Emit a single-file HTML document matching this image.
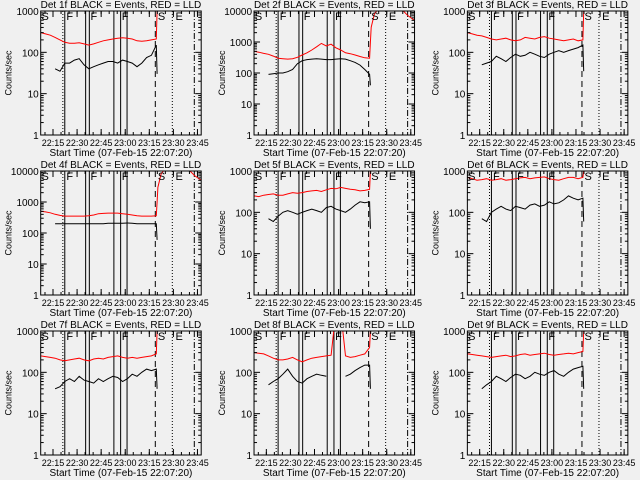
<!DOCTYPE html>
<html><head><meta charset="utf-8"><style>
html,body{margin:0;padding:0;background:#f0f0f0;}
svg{display:block;font-family:"Liberation Sans",sans-serif;}
</style></head><body>
<svg id="c" width="640" height="480" viewBox="0 0 640 480">
<rect width="640" height="480" fill="#f0f0f0"/>
</svg>
<script>
// shared time samples (minutes after 22:07:20)
const times = [0,3,6,9,12,15,18,21,24,27,30,33,36,39,42,45,48,51,54,57,60,63,66,69,72];
const tickLabels = ["22:15","22:30","22:45","23:00","23:15","23:30","23:45"];
const tickMinutes = [7.67,22.67,37.67,52.67,67.67,82.67,97.67];
const detNames = ["1f","2f","3f","4f","5f","6f","7f","8f","9f"];
const yMaxExp = [3,4,3,4,3,3,3,3,3];
const N=null;
const red1=[300,280,260,230,200,175,165,165,170,160,150,160,175,190,200,210,220,225,220,210,190,185,190,200,210];
const blk1=[N,N,N,40,35,55,55,65,70,50,40,45,50,55,60,60,55,65,60,55,45,55,75,85,150];
const red2=[500,470,430,400,350,300,290,280,290,320,380,450,550,700,900,750,850,650,550,450,420,380,340,310,300];
const blk2=[N,N,N,90,95,100,100,110,130,200,250,270,280,290,280,270,270,280,290,280,250,220,180,130,90];
const red3=[300,280,260,250,230,210,200,210,220,200,190,200,230,220,210,230,240,220,210,200,190,200,210,190,200];
const blk3=[N,N,N,50,55,60,80,70,60,75,90,80,85,100,90,80,75,90,100,110,100,110,120,130,150];
const red4=[500,480,450,400,370,350,350,350,350,350,360,380,420,430,440,440,440,420,400,380,360,350,350,350,360];
const blk4=[N,N,N,200,200,200,200,200,200,200,200,200,200,200,205,205,205,205,210,205,200,200,200,200,200];
const red5=[250,240,260,270,280,260,260,280,300,290,300,320,330,340,320,350,380,370,400,380,360,350,330,340,360];
const blk5=[N,N,N,70,60,80,100,110,100,90,100,110,120,110,100,130,140,120,110,100,120,150,180,170,180];
const red6=[700,650,600,620,650,600,620,650,600,620,650,680,700,650,680,700,720,650,620,600,650,700,700,650,700];
const blk6=[N,N,N,70,60,100,120,140,120,110,140,130,120,150,160,140,150,180,160,170,200,250,220,200,220];
const red7=[250,240,230,220,200,190,200,210,220,200,190,210,220,210,230,240,250,230,220,230,220,230,240,250,280];
const blk7=[N,N,N,40,45,60,70,60,80,65,60,55,70,60,70,80,75,60,70,90,80,100,120,110,120];
const red8=[300,290,280,250,220,200,200,210,230,200,180,200,220,230,240,250,260,3000,3000,250,230,240,260,280,400];
const blk8=[N,N,N,50,60,70,90,120,80,60,55,70,80,90,85,80,N,N,N,80,90,110,130,150,150];
const red9=[280,270,260,250,240,230,240,250,260,240,250,270,280,260,270,280,290,270,260,270,280,290,280,300,320];
const blk9=[N,N,N,40,50,60,80,70,60,75,90,85,70,80,100,90,85,100,110,90,80,100,120,130,140];
const reds=[red1,red2,red3,red4,red5,red6,red7,red8,red9];
const blks=[blk1,blk2,blk3,blk4,blk5,blk6,blk7,blk8,blk9];
// tails after the big jump
const redTailT=[72.5,73,75,77,80,85,90,93,96,100];
const redTailHigh=[1000,3000,8000,11000,12000,11000,12000,10000,7000,5000];
const blkTailV=[30,40,35,60,40,60,40,40,40];
// vertical event lines (minutes) and styles
const vMin=[13.8,15,28,30.3,45.6,49.8,53.8,71.4,82,95.7];
const vDash=["1,2",null,null,null,null,null,null,"6,4","1,2","6,2,1,2"];
const letters=["S","F","F","F","S","E"];
const letterMin=[0.5,16,31,50.5,73,84];

const svg=document.getElementById('c');
const NS="http://www.w3.org/2000/svg";
function mk(tag,attrs,parent){const e=document.createElementNS(NS,tag);for(const k in attrs)e.setAttribute(k,attrs[k]);(parent||svg).appendChild(e);return e;}

for(let p=0;p<9;p++){
  const col=p%3,row=Math.floor(p/3);
  const L=col*213.33+40.7,W=160.5,T=11+row*160,H=124;
  const emax=yMaxExp[p];
  const xs=m=>L+m*W/100;
  const ys=v=>T+H-Math.log10(v)/emax*H;
  const g=mk('g',{});
  
  
  const cp=mk('clipPath',{id:'cp'+p},g);
  mk('rect',{x:L,y:T,width:W,height:H},cp);
  const plot=mk('g',{'clip-path':'url(#cp'+p+')'},g);
  // event lines
  vMin.forEach((m,i)=>{
    const ln=mk('line',{x1:xs(m),x2:xs(m),y1:T,y2:T+H,stroke:'#000','stroke-width':1},plot);
    if(vDash[i])ln.setAttribute('stroke-dasharray',vDash[i]);
    
    
  });
  // letters
  letters.forEach((s,i)=>{
    const t=mk('text',{x:xs(letterMin[i]),y:T+9,'font-size':11,fill:'#000'},g);
    t.textContent=s;
    
    
  });
  // series path builder
  function path(vals,tailT,tailV){
    let d='',pen=false;
    vals.forEach((v,i)=>{
      if(v==null){pen=false;return;}
      d+=(pen?'L':'M')+xs(times[i]).toFixed(1)+','+ys(v).toFixed(1);pen=true;
    });
    if(tailT)tailT.forEach((t,i)=>{d+='L'+xs(t).toFixed(1)+','+ys(tailV[i]).toFixed(1);});
    return d;
  }
  const big=emax===4;
  const rT=big?redTailT:[72.5,73];
  const rV=big?redTailHigh:[1000,3000];
  const rp=mk('path',{d:path(reds[p],rT,rV),fill:'none',stroke:'#ff0000','stroke-width':1},plot);
  
  
  const bp=mk('path',{d:path(blks[p],[72.5],[blkTailV[p]]),fill:'none',stroke:'#000','stroke-width':1},plot);
  
  
  // frame
  const fr=mk('rect',{x:L,y:T,width:W,height:H,fill:'none',stroke:'#000','stroke-width':1},g);
  
  
  // y ticks
  for(let e=0;e<=emax;e++){
    const y=ys(Math.pow(10,e));
    mk('line',{x1:L,x2:L+6,y1:y,y2:y,stroke:'#000'},g);
    mk('line',{x1:L+W-6,x2:L+W,y1:y,y2:y,stroke:'#000'},g);
    const t=mk('text',{x:L-2,y:y+4,'font-size':10,'text-anchor':'end',fill:'#000'},g);
    t.textContent=String(Math.pow(10,e));
    
    
    if(e<emax)for(let k=2;k<=9;k++){
      const yy=ys(k*Math.pow(10,e));
      mk('line',{x1:L,x2:L+3,y1:yy,y2:yy,stroke:'#000'},g);
      mk('line',{x1:L+W-3,x2:L+W,y1:yy,y2:yy,stroke:'#000'},g);
    }
  }
  // x ticks
  tickMinutes.forEach((m,i)=>{
    const x=xs(m);
    mk('line',{x1:x,x2:x,y1:T+H,y2:T+H-6,stroke:'#000'},g);
    mk('line',{x1:x,x2:x,y1:T,y2:T+6,stroke:'#000'},g);
    const t=mk('text',{x:x,y:T+H+11,'font-size':9,'text-anchor':'middle',fill:'#000'},g);
    t.textContent=tickLabels[i];
    
    
  });
  for(let m=2.67;m<100;m+=5){
    const x=xs(m);
    mk('line',{x1:x,x2:x,y1:T+H,y2:T+H-3,stroke:'#000'},g);
    mk('line',{x1:x,x2:x,y1:T,y2:T+3,stroke:'#000'},g);
  }
  const ti=mk('text',{x:L+W/2,y:T-3,'font-size':10,'text-anchor':'middle',fill:'#000'},g);
  ti.textContent='Det '+detNames[p]+' BLACK = Events, RED = LLD';
  
  
  const xl=mk('text',{x:L+W/2,y:T+H+21,'font-size':10,'text-anchor':'middle',fill:'#000'},g);
  xl.textContent='Start Time (07-Feb-15 22:07:20)';
  
  
  const yl=mk('text',{x:0,y:0,'font-size':9,'text-anchor':'middle',fill:'#000',transform:'translate('+(L-29)+','+(T+H/2)+') rotate(-90)'},g);
  yl.textContent='Counts/sec';
  
  
}
</script>
</body></html>
